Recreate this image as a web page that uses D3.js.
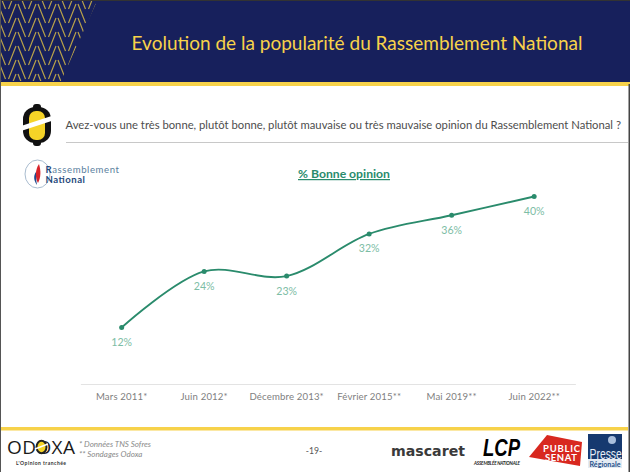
<!DOCTYPE html>
<html><head><meta charset="utf-8">
<script src="https://cdn.jsdelivr.net/npm/d3@7/dist/d3.min.js"></script>
<style>html,body{margin:0;padding:0;background:#fff}svg{display:block;font-family:Lato,"Open Sans",sans-serif}</style>
</head><body><svg id="c" width="630" height="472"></svg>
<script>
const categories = ["Mars 2011*","Juin 2012*","Décembre 2013*","Février 2015**","Mai 2019**","Juin 2022**"];
const values = [12,24,23,32,36,40];
const titleText = "Evolution de la popularité du Rassemblement National";
const questionText = "Avez-vous une très bonne, plutôt bonne, plutôt mauvaise ou très mauvaise opinion du Rassemblement National ?";
const seriesName = "% Bonne opinion";
const notes = ["* Données TNS Sofres","** Sondages Odoxa"];

const svg = d3.select("#c");
const navy="#17205c", gold="#f7d24a", green="#2a8b6c", labelGreen="#7dbda5", grey="#808080";

// frame and header
svg.append("rect").attr("width",630).attr("height",472).attr("fill","#fff");
svg.append("rect").attr("y",0).attr("width",630).attr("height",83).attr("fill",navy);
svg.append("rect").attr("y",82).attr("width",630).attr("height",4).attr("fill",gold);
svg.append("rect").attr("y",427).attr("width",628).attr("height",3.5).attr("fill",gold);

// chevron decoration
const defs=svg.append("defs");
defs.append("clipPath").attr("id","dc").append("path").attr("d","M0,1L97,1L61,81L0,81Z");
const dec=svg.append("g").attr("clip-path","url(#dc)").attr("fill","none").attr("stroke","#b7a04a").attr("stroke-width",1.2);
for(let r=0;r<7;r++){
  for(let c=-1;c<6;c++){
    const cx=17+c*20, top=-12+r*14;
    dec.append("path").attr("d",`M${cx-8.5},${top+21}L${cx-1},${top+2}M${cx+1},${top+2}L${cx+8.5},${top+21}`);
  }
}
svg.append("rect").attr("width",630).attr("height",1).attr("fill","#333");
svg.append("rect").attr("width",1).attr("height",472).attr("fill","#555");
svg.append("rect").attr("x",628.5).attr("width",1.5).attr("y",84).attr("height",388).attr("fill","#444");

svg.append("text").attr("x",357).attr("y",49.5).attr("text-anchor","middle").attr("font-size",19).attr("fill",gold).text(titleText);

// question
svg.append("text").attr("x",65.5).attr("y",128.5).attr("font-size",11.25).attr("fill","#4d4d4d").text(questionText);
svg.append("line").attr("x1",66).attr("x2",628).attr("y1",142.5).attr("y2",142.5).attr("stroke","#c8c8c8").attr("stroke-width",1);

// odoxa medallion
const med=svg.append("g");
med.append("rect").attr("x",23).attr("y",107).attr("width",28).attr("height",36).attr("rx",12).attr("fill","#111");
med.append("rect").attr("x",33).attr("y",104).attr("width",8).attr("height",42).attr("rx",3).attr("fill","#111");
med.append("rect").attr("x",29).attr("y",111).attr("width",16).attr("height",29).attr("rx",7).attr("fill","#f5d327");
med.append("path").attr("d","M21,126L53,115.5L53,120.5L21,131Z").attr("fill","#fff");

// RN logo
const rn=svg.append("g");
rn.append("ellipse").attr("cx",37.5).attr("cy",174).attr("rx",12.5).attr("ry",14).attr("fill","#fff").attr("stroke","#a9bccf").attr("stroke-width",1);
rn.append("path").attr("d","M39,164C35,170 35,178 38,183C41,177 41,171 39,164Z").attr("fill","#d8232a");
rn.append("path").attr("d","M36,172C33,176 34,181 37,185C36,180 36,176 36,172Z").attr("fill","#1f4a8c");
rn.append("text").attr("x",45.5).attr("y",172.7).attr("font-size",9.6).attr("fill","#5b7f9e").attr("textLength",73.5)
  .html('<tspan font-weight="700" fill="#1f4a7c">R</tspan>assemblement');
rn.append("text").attr("x",45.5).attr("y",183.4).attr("font-size",9.6).attr("font-weight","700").attr("fill","#1f4a7c").attr("textLength",39.5).text("National");

// chart
const x=d3.scaleBand().domain(categories).range([80.4,575.4]);
const y=d3.scaleLinear().domain([0,40]).range([383.7,196.5]);
const px=d=>x(d)+x.bandwidth()/2;

const axis=d3.axisBottom(x).tickSize(0).tickPadding(9);
const ag=svg.append("g").attr("transform","translate(0,384)").call(axis);
ag.select(".domain").attr("stroke","#e3e3e3").attr("stroke-width",1);
ag.selectAll("text").attr("font-size",9.6).attr("fill",grey).attr("font-family","Lato,sans-serif").attr("letter-spacing",0.15);

const line=d3.line().x((d,i)=>px(categories[i])).y(d=>y(d)).curve(d3.curveCatmullRom.alpha(0.5));
svg.append("path").datum(values).attr("d",line).attr("fill","none").attr("stroke",green).attr("stroke-width",1.9);
svg.selectAll("circle.pt").data(values).join("circle").attr("class","pt")
  .attr("cx",(d,i)=>px(categories[i])).attr("cy",d=>y(d)).attr("r",2.5).attr("fill",green);
svg.selectAll("text.lab").data(values).join("text").attr("class","lab")
  .attr("x",(d,i)=>px(categories[i])).attr("y",d=>y(d)+18.5)
  .attr("text-anchor","middle").attr("font-size",10.6).attr("fill",labelGreen).text(d=>d+"%");

svg.append("text").attr("x",344).attr("y",178).attr("text-anchor","middle").attr("font-size",12.2).attr("font-weight","700")
  .attr("fill",green).attr("text-decoration","underline").text(seriesName);

// footer
svg.append("text").attr("x",7).attr("y",454).attr("font-size",19).attr("font-family","'Open Sans',sans-serif").attr("fill","#1a1a1a").attr("textLength",68).text("ODOXA");
svg.append("ellipse").attr("cx",41.5).attr("cy",447).attr("rx",5).attr("ry",6.3).attr("fill","#f5d327").attr("stroke","#222").attr("stroke-width",2);
svg.append("path").attr("d","M35,449L48,444").attr("stroke","#fff").attr("stroke-width",1.4);
svg.append("text").attr("x",16).attr("y",465).attr("font-size",5).attr("font-weight","700").attr("fill","#333").attr("textLength",50).text("L'Opinion tranchée");
notes.forEach((n,i)=>svg.append("text").attr("x",79).attr("y",447+i*10).attr("font-size",8).attr("font-style","italic").attr("fill","#8a8a8a").text(n));
svg.append("text").attr("x",314).attr("y",454).attr("text-anchor","middle").attr("font-size",8.6).attr("fill","#555").text("-19-");

svg.append("text").attr("x",391).attr("y",456).attr("font-size",14.5).attr("font-weight","700").attr("font-family","'DejaVu Sans',sans-serif").attr("fill","#3a3a3a").attr("textLength",74).attr("lengthAdjust","spacingAndGlyphs").text("mascaret");
svg.append("text").attr("transform","translate(483,456) scale(1,1.15)").attr("font-size",20.5).attr("font-weight","700").attr("font-style","italic").attr("font-family","'Liberation Sans',sans-serif").attr("fill","#000").attr("textLength",37).attr("lengthAdjust","spacingAndGlyphs").text("LCP");
svg.append("text").attr("x",474).attr("y",464.5).attr("font-size",4.6).attr("font-weight","700").attr("font-style","italic").attr("fill","#222").attr("textLength",46).text("ASSEMBLÉE NATIONALE");

svg.append("path").attr("d","M547,435L582,442L580,466L529,457Z").attr("fill","#d8281f");
svg.append("text").attr("x",543).attr("y",451.5).attr("font-size",9.5).attr("font-weight","700").attr("fill","#fff").attr("textLength",37).text("PUBLIC");
svg.append("text").attr("x",545).attr("y",461).attr("font-size",9.5).attr("font-weight","700").attr("fill","#fff").attr("textLength",32).text("SENAT");

svg.append("rect").attr("x",588).attr("y",434).attr("width",34).attr("height",25).attr("fill","#16396f");
svg.append("circle").attr("cx",612).attr("cy",440).attr("r",4).attr("fill","#a9bedb");
svg.append("rect").attr("x",588).attr("y",459).attr("width",34).attr("height",9).attr("fill","#e4ebf3");
svg.append("text").attr("transform","translate(589.5,459) scale(1,1.35)").attr("font-size",10.4).attr("fill","#e8eef6").attr("font-family","'Liberation Sans',sans-serif").text("Presse");
svg.append("text").attr("x",589.5).attr("y",466.5).attr("font-size",6.6).attr("font-weight","700").attr("fill","#1f4f8a").attr("textLength",31).attr("lengthAdjust","spacingAndGlyphs").text("Régionale");
</script></body></html>
